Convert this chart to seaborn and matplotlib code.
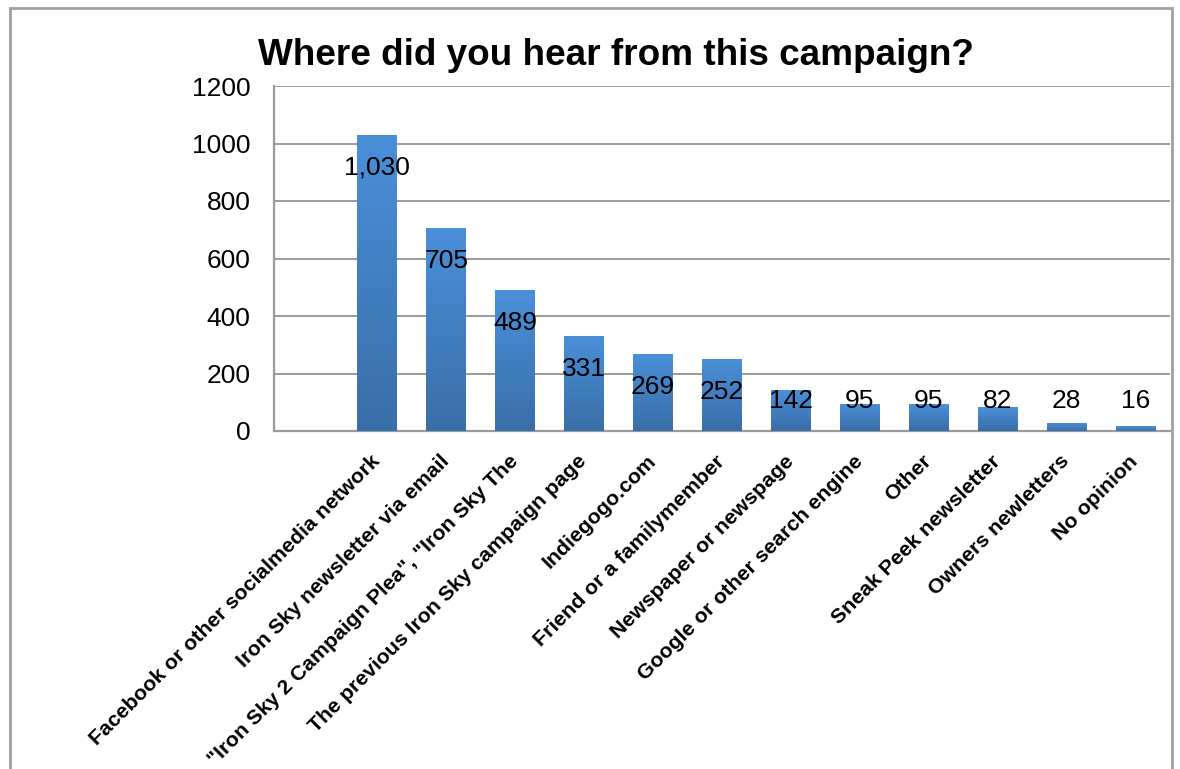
import numpy as np
import pandas as pd
import matplotlib
matplotlib.use("Agg")
import matplotlib.pyplot as plt
import matplotlib.patches as mpatches
from matplotlib.colors import LinearSegmentedColormap
from matplotlib.transforms import ScaledTranslation
import seaborn as sns

categories = [
    "Facebook or other socialmedia network",
    "Iron Sky newsletter via email",
    "\"Iron Sky 2 Campaign Plea\", \"Iron Sky The",
    "The previous Iron Sky campaign page",
    "Indiegogo.com",
    "Friend or a familymember",
    "Newspaper or newspage",
    "Google or other search engine",
    "Other",
    "Sneak Peek newsletter",
    "Owners newletters",
    "No opinion",
]
values = [1030, 705, 489, 331, 269, 252, 142, 95, 95, 82, 28, 16]
y_ticks = [0, 200, 400, 600, 800, 1000, 1200]
title = "Where did you hear from this campaign?"

sns.set_theme(style="white")
plt.rcParams["font.family"] = ["Liberation Sans", "DejaVu Sans"]

fig = plt.figure(figsize=(11.8, 7.69), dpi=100)
ax = fig.add_axes([274 / 1180, 1 - 431 / 769, (1170 - 274) / 1180, (431 - 86) / 769])

df = pd.DataFrame({"cat": categories, "val": values})
sns.barplot(data=df, x="cat", y="val", ax=ax, color="#4386cc", width=0.58,
            saturation=1, order=categories, zorder=3)

cmap = LinearSegmentedColormap.from_list("g", ["#3a6ea8", "#4a90d9"])
grad = np.linspace(0, 1, 256).reshape(-1, 1)
for p in ax.patches:
    x0, y0 = p.get_x(), p.get_y()
    w, h = p.get_width(), p.get_height()
    im = ax.imshow(grad, cmap=cmap, origin="lower", aspect="auto",
                   extent=[x0, x0 + w, y0, y0 + h], zorder=4)
    im.set_clip_path(p)
    p.set_edgecolor("none")

ax.set_xlim(-1.5, len(categories) - 0.5)
ax.set_ylim(0, 1200)
ax.set_yticks(y_ticks)
ax.set_yticklabels([str(t) for t in y_ticks], fontsize=19, color="black")
ax.tick_params(axis="y", length=0, pad=17)
ax.tick_params(axis="x", length=0, pad=12)
ax.set_xticks(range(len(categories)))
ax.set_xticklabels(categories, rotation=45, ha="right", rotation_mode="anchor",
                   fontsize=15.3, fontweight="bold", color="black")
offset = ScaledTranslation(-7 / 100, -4 / 100, fig.dpi_scale_trans)
for lab in ax.get_xticklabels():
    lab.set_transform(lab.get_transform() + offset)
ax.set_xlabel("")
ax.set_ylabel("")
ax.grid(axis="y", color="#9a9a9a", linewidth=1.4, zorder=0)
ax.set_axisbelow(True)
for s in ["top", "right"]:
    ax.spines[s].set_visible(False)
for s in ["left", "bottom"]:
    ax.spines[s].set_color("#9a9a9a")
    ax.spines[s].set_linewidth(1.6)

for i, v in enumerate(values):
    ly = max(v - 115, 105)
    ax.text(i, ly, f"{v:,}", ha="center", va="center", fontsize=19,
            color="black", zorder=6)

fig.text(258 / 1180, 1 - 65 / 769, title, ha="left", va="baseline",
         fontsize=26.6, fontweight="bold", color="black")

frame = mpatches.Rectangle((10 / 1180, -0.05), (1172 - 10) / 1180, 1 - 8 / 769 + 0.05,
                           transform=fig.transFigure, fill=False,
                           edgecolor="#a0a0a0", linewidth=2, clip_on=False)
fig.patches.append(frame)

fig.savefig("out.png", dpi=100)
